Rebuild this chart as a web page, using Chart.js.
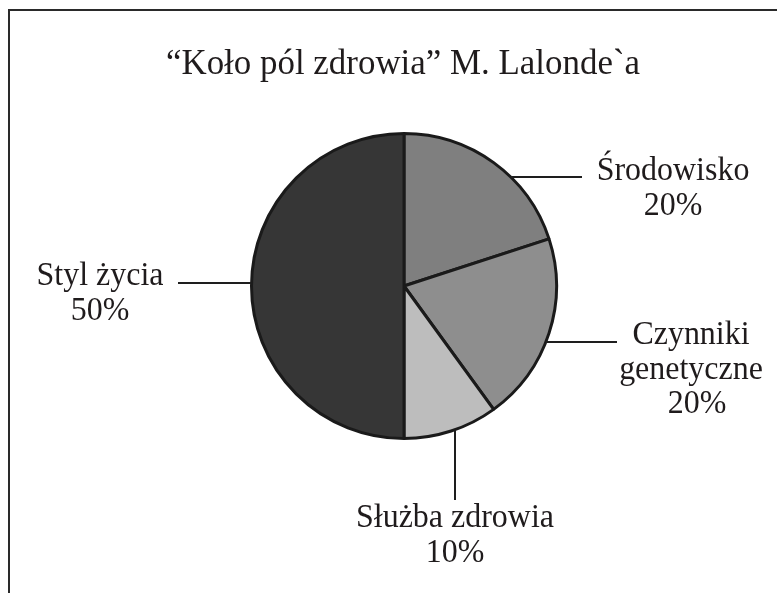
<!DOCTYPE html>
<html>
<head>
<meta charset="utf-8">
<script src="https://cdn.jsdelivr.net/npm/chart.js@4/dist/chart.umd.min.js"></script>
<style>
  html, body { margin: 0; padding: 0; background: #ffffff; }
  #wrap { width: 777px; height: 593px; position: relative; }
</style>
</head>
<body>
<div id="wrap"><canvas id="c" width="777" height="593"></canvas></div>
<script>
const titleText = "“Koło pól zdrowia” M. Lalonde`a";
const categories = ["Środowisko", "Czynniki genetyczne", "Służba zdrowia", "Styl życia"];
const labelLines = [["Środowisko"], ["Czynniki", "genetyczne"], ["Służba zdrowia"], ["Styl życia"]];
const values = [20, 20, 10, 50];
const sliceColors = ["#7f7f7f", "#8e8e8e", "#bdbdbd", "#363636"];

// leader line + label layout (pixel positions of the annotations)
const callouts = [
  { dir: "right", lineY: 177, lineEnd: 582, textX: 673, baseY: 180 },
  { dir: "right", lineY: 342, lineEnd: 617, textX: 691, baseY: 344 },
  { dir: "down",  lineX: 455, lineEnd: 500, textX: 455, baseY: 527 },
  { dir: "left",  lineY: 283, lineEnd: 178, textX: 100, baseY: 285 }
];

const FONT = '34px "Liberation Serif", "Times New Roman", serif';
const INK = "#1f1b1c";

function condensedText(ctx, t, x, y, sx) {
  ctx.save();
  ctx.translate(x, y);
  ctx.scale(sx, 1);
  ctx.fillText(t, 0, 0);
  ctx.restore();
}

const annotate = {
  id: "annotate",
  afterDraw(chart) {
    const ctx = chart.ctx;
    ctx.save();
    // frame
    ctx.strokeStyle = "#2a2a2a";
    ctx.lineWidth = 2;
    ctx.beginPath();
    ctx.moveTo(9, 593);
    ctx.lineTo(9, 10);
    ctx.lineTo(777, 10);
    ctx.stroke();
    // title
    ctx.fillStyle = INK;
    ctx.font = '36px "Liberation Serif", "Times New Roman", serif';
    ctx.textAlign = "center";
    ctx.textBaseline = "alphabetic";
    condensedText(ctx, titleText, 403, 74, 0.97);

    const meta = chart.getDatasetMeta(0);
    const arc0 = meta.data[0];
    const cx = arc0.x, cy = arc0.y, r = arc0.outerRadius;
    ctx.strokeStyle = "#1e1e1e";
    ctx.lineWidth = 2;
    ctx.font = FONT;
    const total = values.reduce((a, b) => a + b, 0);
    callouts.forEach((c, i) => {
      ctx.beginPath();
      if (c.dir === "right" || c.dir === "left") {
        const dy = c.lineY - cy;
        const dx = Math.sqrt(Math.max(r * r - dy * dy, 0));
        const sx = c.dir === "right" ? cx + dx : cx - dx;
        ctx.moveTo(sx, c.lineY);
        ctx.lineTo(c.lineEnd, c.lineY);
      } else {
        const dx = c.lineX - cx;
        const dy = Math.sqrt(Math.max(r * r - dx * dx, 0));
        ctx.moveTo(c.lineX, cy + dy);
        ctx.lineTo(c.lineX, c.lineEnd);
      }
      ctx.stroke();
      const lines = labelLines[i].concat([Math.round(values[i] / total * 100) + "%"]);
      lines.forEach((t, k) => {
        condensedText(ctx, t, c.textX + (i === 1 && k === 2 ? 6 : 0), c.baseY + k * 34.5, 0.94);
      });
    });
    ctx.restore();
  }
};

new Chart(document.getElementById("c"), {
  type: "pie",
  data: {
    labels: categories,
    datasets: [{
      data: values,
      backgroundColor: sliceColors,
      borderColor: "#1a1a1a",
      borderWidth: 3,
      hoverOffset: 0
    }]
  },
  options: {
    responsive: false,
    animation: false,
    events: [],
    rotation: 0,
    layout: { padding: { left: 250, right: 219, top: 132, bottom: 153 } },
    plugins: {
      legend: { display: false },
      title: { display: false },
      tooltip: { enabled: false }
    }
  },
  plugins: [annotate]
});
</script>
</body>
</html>
